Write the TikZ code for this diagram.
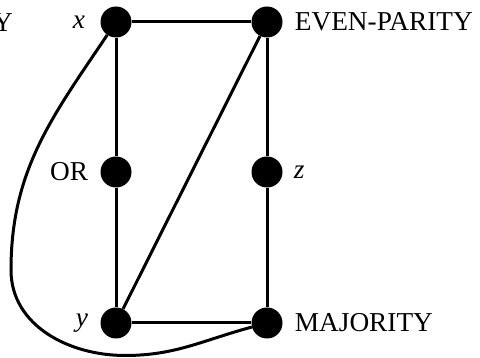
\documentclass[tikz,border=0pt]{standalone}
\usepackage{fontspec}
\setmainfont{Liberation Serif}
\begin{document}
\begin{tikzpicture}[x=1pt,y=1pt,
  vert/.style={circle,fill=black,draw=none,minimum size=31pt,inner sep=0pt},
  edge/.style={line width=3pt},
  lab/.style={font=\fontsize{27.3}{31}\selectfont,inner sep=0pt},
  every label/.style={lab}]
\useasboundingbox (0,0) rectangle (480,358);
\node[vert,label={[label distance=15pt]west:\itshape x}] (x) at (116,336) {};
\node[vert,label={[label distance=12pt]east:EVEN-PARITY}] (E) at (267,336) {};
\node[vert,label={[label distance=12pt]west:OR}] (OR) at (116,186) {};
\node[vert,label={[label distance=11pt]east:\itshape z}] (z) at (267,186) {};
\node[vert,label={[label distance=12pt]west:\itshape y}] (y) at (116,35) {};
\node[vert,label={[label distance=12pt]east:MAJORITY}] (M) at (267,35) {};
\node[lab,anchor=base east] (ycut) at (13,326) {Y};
\coordinate (c1) at (11,88);
\coordinate (c2) at (125,2.5);
\draw[edge] (x) -- (E);
\draw[edge] (x) -- (OR);
\draw[edge] (OR) -- (y);
\draw[edge] (E) -- (z);
\draw[edge] (z) -- (M);
\draw[edge] (y) -- (M);
\draw[edge] (E) -- (y);
\draw[edge] (x) to[out=236,in=90] (c1) to[out=270,in=180] (c2) to[out=0,in=195] (M);
\end{tikzpicture}
\end{document}
